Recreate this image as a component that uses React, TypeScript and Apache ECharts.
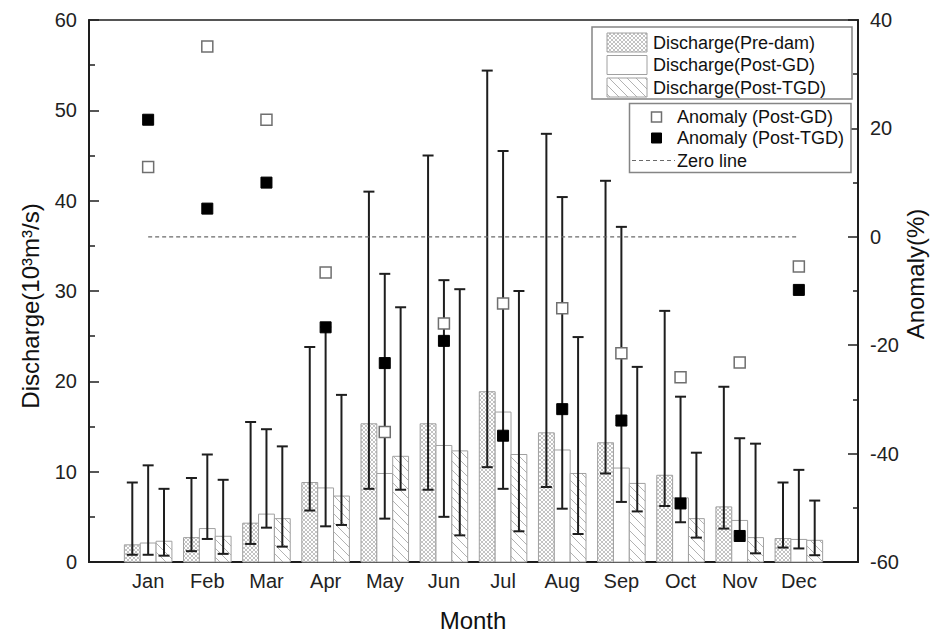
import React, { useEffect, useRef } from 'react';
import * as echarts from 'echarts';

const months = ['Jan', 'Feb', 'Mar', 'Apr', 'May', 'Jun', 'Jul', 'Aug', 'Sep', 'Oct', 'Nov', 'Dec'];

// Mean discharge (10^3 m^3/s)
const preDam = [1.9, 2.7, 4.3, 8.8, 15.3, 15.3, 18.85, 14.3, 13.2, 9.6, 6.1, 2.6];
const postGD = [2.1, 3.7, 5.3, 8.2, 9.8, 12.9, 16.6, 12.4, 10.4, 7.1, 4.6, 2.5];
const postTGD = [2.3, 2.85, 4.8, 7.3, 11.7, 12.3, 11.9, 9.8, 8.7, 4.8, 2.7, 2.4];

// Error bar ranges (min / max)
const preDamMin = [0.8, 1.2, 2.0, 5.7, 8.1, 8.0, 10.5, 8.3, 9.8, 6.2, 3.7, 1.6];
const preDamMax = [8.8, 9.3, 15.5, 23.8, 41.0, 45.0, 54.4, 47.4, 42.2, 27.8, 19.4, 8.8];
const postGDMin = [0.8, 2.55, 3.8, 3.95, 4.8, 5.0, 8.1, 5.9, 6.65, 4.4, 2.9, 1.5];
const postGDMax = [10.7, 11.9, 14.7, 26.0, 31.9, 31.2, 45.5, 40.4, 37.1, 18.3, 13.7, 10.2];
const postTGDMin = [0.7, 0.9, 1.7, 4.1, 8.0, 2.95, 3.4, 3.1, 5.6, 2.7, 0.96, 0.75];
const postTGDMax = [8.1, 9.1, 12.8, 18.5, 28.2, 30.2, 30.0, 24.9, 21.6, 12.1, 13.1, 6.8];

// Anomaly (%)
const anomalyGD = [12.9, 35.1, 21.6, -6.6, -36.0, -16.0, -12.3, -13.2, -21.5, -25.9, -23.2, -5.5];
const anomalyTGD = [21.6, 5.2, 10.0, -16.7, -23.3, -19.2, -36.7, -31.8, -33.9, -49.2, -55.2, -9.8];

const zeroLine = [[1, 0], [12, 0]];

const barLegend = ['Discharge(Pre-dam)', 'Discharge(Post-GD)', 'Discharge(Post-TGD)'];
const markerLegend = ['Anomaly (Post-GD)', 'Anomaly (Post-TGD)', 'Zero line'];

const xTitle = 'Month';
const yTitleLeft = 'Discharge(10³m³/s)';
const yTitleRight = 'Anomaly(%)';

const FONT = '"Liberation Sans", Arial, Helvetica, sans-serif';
const BAR_FRAC = 0.268;
const HATCH_COLOR = '#a9a9a9';
const OUTLINE = '#a0a0a0';
const DARK = '#1e1e1e';

type Seg = [number, number, number, number];

function hatch(x0: number, y0: number, w: number, h: number, s: number, dir: number): Seg[] {
  const x1 = x0 + w;
  const y1 = y0 + h;
  const segs: Seg[] = [];
  if (dir < 0) {
    const cMin = y0 - x1;
    const cMax = y1 - x0;
    for (let c = Math.ceil(cMin / s) * s; c <= cMax; c += s) {
      const xa = Math.max(x0, y0 - c);
      const xb = Math.min(x1, y1 - c);
      if (xb - xa > 0.3) segs.push([xa, xa + c, xb, xb + c]);
    }
  } else {
    const cMin = x0 + y0;
    const cMax = x1 + y1;
    for (let c = Math.ceil(cMin / s) * s; c <= cMax; c += s) {
      const xa = Math.max(x0, c - y1);
      const xb = Math.min(x1, c - y0);
      if (xb - xa > 0.3) segs.push([xa, c - xa, xb, c - xb]);
    }
  }
  return segs;
}

function patternChildren(x: number, y: number, w: number, h: number, pattern: string, z?: number) {
  const out: any[] = [];
  out.push({ type: 'rect', shape: { x, y, width: w, height: h }, style: { fill: '#fff', stroke: 'none' } });
  let segs: Seg[] = [];
  let lw = 0.8;
  if (pattern === 'cross') {
    segs = hatch(x, y, w, h, 4, 1).concat(hatch(x, y, w, h, 4, -1));
    lw = 0.7;
  } else if (pattern === 'diag') {
    segs = hatch(x, y, w, h, 9, -1);
    lw = 0.9;
  }
  for (const s of segs) {
    out.push({
      type: 'line',
      shape: { x1: s[0], y1: s[1], x2: s[2], y2: s[3] },
      style: { stroke: HATCH_COLOR, lineWidth: lw },
    });
  }
  out.push({ type: 'rect', shape: { x, y, width: w, height: h }, style: { fill: 'none', stroke: OUTLINE, lineWidth: 1 } });
  if (z !== undefined) out.forEach((e) => (e.z = z));
  return out;
}

function barSeries(name: string, values: number[], k: number, pattern: string) {
  return {
    type: 'custom',
    name,
    xAxisIndex: 0,
    yAxisIndex: 0,
    z: 2,
    data: values.map((v, i) => [i + 1, v]),
    encode: { x: 0, y: 1 },
    renderItem: (params: any, api: any) => {
      const m = api.value(0);
      const v = api.value(1);
      const unit = api.size([1, 0])[0];
      const bw = unit * BAR_FRAC;
      const p = api.coord([m, v]);
      const base = api.coord([m, 0])[1];
      const cx = p[0] + k * bw;
      return {
        type: 'group',
        children: patternChildren(cx - bw / 2, p[1], bw, base - p[1], pattern),
      };
    },
  };
}

function errorSeries(name: string, mins: number[], maxs: number[], k: number) {
  return {
    type: 'custom',
    name,
    xAxisIndex: 0,
    yAxisIndex: 0,
    z: 3,
    data: mins.map((lo, i) => [i + 1, lo, maxs[i]]),
    encode: { x: 0, y: [1, 2] },
    renderItem: (params: any, api: any) => {
      const m = api.value(0);
      const unit = api.size([1, 0])[0];
      const bw = unit * BAR_FRAC;
      const lo = api.coord([m, api.value(1)]);
      const hi = api.coord([m, api.value(2)]);
      const x = lo[0] + k * bw;
      const cap = 5.5;
      const style = { stroke: DARK, lineWidth: 2 };
      return {
        type: 'group',
        children: [
          { type: 'line', shape: { x1: x, y1: lo[1], x2: x, y2: hi[1] }, style },
          { type: 'line', shape: { x1: x - cap, y1: hi[1], x2: x + cap, y2: hi[1] }, style },
          { type: 'line', shape: { x1: x - cap, y1: lo[1], x2: x + cap, y2: lo[1] }, style },
        ],
      };
    },
  };
}

function legendGraphics() {
  const els: any[] = [];
  // Box 1
  els.push({
    type: 'rect',
    z: 100,
    shape: { x: 592, y: 27, width: 260, height: 72 },
    style: { fill: '#fff', stroke: '#858585', lineWidth: 1.5 },
  });
  const patterns = ['cross', 'none', 'diag'];
  const rowsY = [33, 55.5, 78];
  barLegend.forEach((label, i) => {
    els.push({ type: 'group', z: 101, children: patternChildren(607, rowsY[i], 40, 19, patterns[i], 101) });
    els.push({
      type: 'text',
      z: 101,
      x: 653,
      y: rowsY[i] + 9.5,
      style: { text: label, fontSize: 18, fontFamily: FONT, fill: '#111', verticalAlign: 'middle', align: 'left' },
    });
  });
  // Box 2
  els.push({
    type: 'rect',
    z: 100,
    shape: { x: 629.5, y: 103.5, width: 221.5, height: 69 },
    style: { fill: '#fff', stroke: '#858585', lineWidth: 1.5 },
  });
  const rows2 = [117, 138, 160.5];
  els.push({
    type: 'rect',
    z: 101,
    shape: { x: 651.5, y: rows2[0] - 5, width: 10, height: 10 },
    style: { fill: '#fff', stroke: '#6f6f6f', lineWidth: 1.5 },
  });
  els.push({
    type: 'rect',
    z: 101,
    shape: { x: 651.5, y: rows2[1] - 5, width: 10, height: 10 },
    style: { fill: '#000', stroke: '#000', lineWidth: 1 },
  });
  els.push({
    type: 'line',
    z: 101,
    shape: { x1: 632, y1: rows2[2], x2: 675, y2: rows2[2] },
    style: { stroke: '#6a6a6a', lineWidth: 1.2, lineDash: [4, 3] },
  });
  markerLegend.forEach((label, i) => {
    els.push({
      type: 'text',
      z: 101,
      x: 677,
      y: rows2[i],
      style: { text: label, fontSize: 18, fontFamily: FONT, fill: '#111', verticalAlign: 'middle', align: 'left' },
    });
  });
  // Axis titles
  const titleStyle = { fontSize: 24, fontFamily: FONT, fill: '#111', align: 'center', verticalAlign: 'middle' };
  els.push({ type: 'text', x: 473, y: 620, style: { ...titleStyle, text: xTitle } });
  els.push({ type: 'text', x: 30, y: 306, rotation: Math.PI / 2, style: { ...titleStyle, text: yTitleLeft } });
  els.push({ type: 'text', x: 915, y: 274, rotation: Math.PI / 2, style: { ...titleStyle, text: yTitleRight } });
  return els;
}

export default function App() {
  const ref = useRef<HTMLDivElement>(null);
  useEffect(() => {
    if (!ref.current) return;
    const chart = echarts.init(ref.current, undefined, { renderer: 'svg' });
    const axisText = { fontSize: 20, color: '#222', fontFamily: FONT };
    const tickStyle = { color: DARK, width: 1.5 };
    chart.setOption({
      animation: false,
      backgroundColor: '#fff',
      textStyle: { fontFamily: FONT },
      grid: {
        left: 89,
        right: 74,
        top: 20,
        bottom: 73,
        show: true,
        borderColor: DARK,
        borderWidth: 1.5,
        backgroundColor: 'transparent',
      },
      xAxis: {
        type: 'value',
        min: 0,
        max: 13,
        interval: 1,
        axisLine: { show: true, lineStyle: { color: DARK, width: 2 } },
        axisTick: { show: false },
        splitLine: { show: false },
        axisLabel: {
          ...axisText,
          margin: 9,
          formatter: (v: number) => months[v - 1] ?? '',
        },
      },
      yAxis: [
        {
          type: 'value',
          min: 0,
          max: 60,
          interval: 10,
          position: 'left',
          axisLine: { show: true, lineStyle: { color: DARK, width: 2 } },
          axisTick: { show: true, inside: true, length: 10, lineStyle: tickStyle },
          minorTick: { show: true, splitNumber: 2, length: 6, lineStyle: tickStyle },
          splitLine: { show: false },
          axisLabel: { ...axisText, margin: 12 },
        },
        {
          type: 'value',
          min: -60,
          max: 40,
          interval: 20,
          position: 'right',
          axisLine: { show: true, lineStyle: { color: DARK, width: 2 } },
          axisTick: { show: true, inside: true, length: 10, lineStyle: tickStyle },
          minorTick: { show: true, splitNumber: 2, length: 5, lineStyle: tickStyle },
          splitLine: { show: false },
          axisLabel: { ...axisText, margin: 12 },
        },
      ],
      series: [
        barSeries('Discharge(Pre-dam)', preDam, -1, 'cross'),
        barSeries('Discharge(Post-GD)', postGD, 0, 'none'),
        barSeries('Discharge(Post-TGD)', postTGD, 1, 'diag'),
        errorSeries('Range(Pre-dam)', preDamMin, preDamMax, -1),
        errorSeries('Range(Post-GD)', postGDMin, postGDMax, 0),
        errorSeries('Range(Post-TGD)', postTGDMin, postTGDMax, 1),
        {
          type: 'line',
          name: 'Zero line',
          xAxisIndex: 0,
          yAxisIndex: 1,
          z: 3,
          data: zeroLine,
          showSymbol: false,
          symbol: 'none',
          lineStyle: { color: '#6a6a6a', width: 1.2, type: [4, 3] },
        },
        {
          type: 'scatter',
          name: 'Anomaly (Post-GD)',
          xAxisIndex: 0,
          yAxisIndex: 1,
          z: 5,
          symbol: 'rect',
          symbolSize: 11,
          data: anomalyGD.map((a, i) => [i + 1, a]),
          itemStyle: { color: '#fff', borderColor: '#6f6f6f', borderWidth: 1.5, opacity: 1 },
        },
        {
          type: 'scatter',
          name: 'Anomaly (Post-TGD)',
          xAxisIndex: 0,
          yAxisIndex: 1,
          z: 5,
          symbol: 'rect',
          symbolSize: 11,
          data: anomalyTGD.map((a, i) => [i + 1, a]),
          itemStyle: { color: '#000', borderColor: '#000', borderWidth: 1, opacity: 1 },
        },
      ],
      graphic: legendGraphics(),
    });
    return () => chart.dispose();
  }, []);
  return <div ref={ref} style={{ position: 'absolute', left: 0, top: 0, width: 932, height: 635 }} />;
}
